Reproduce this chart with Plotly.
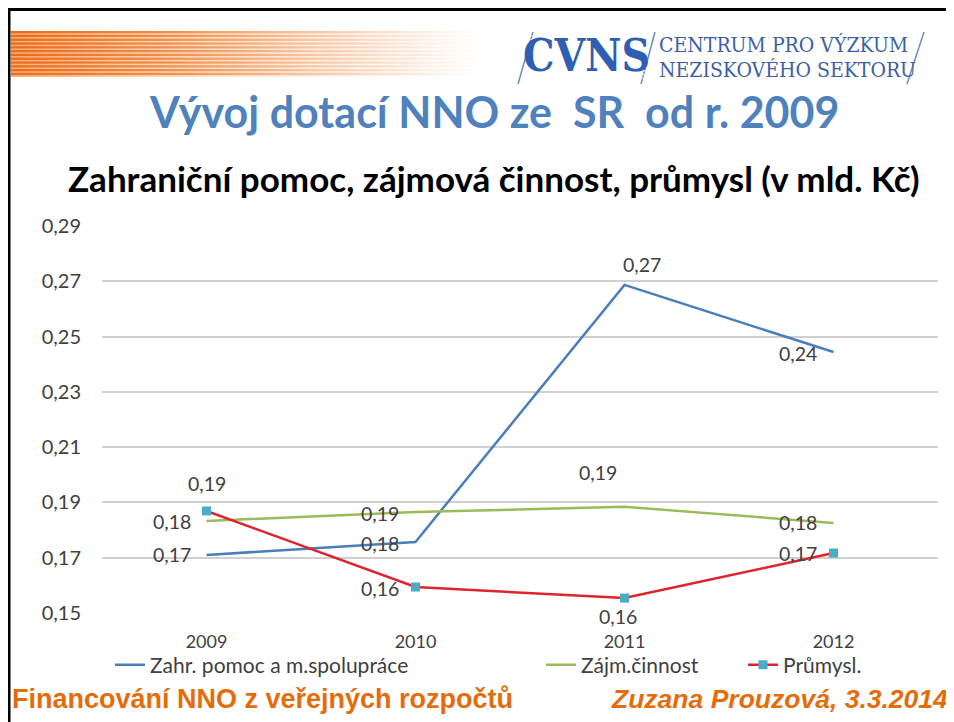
import base64
import plotly.graph_objects as go

# ---------------- data ----------------
years = ["2009", "2010", "2011", "2012"]
zahr_pomoc = [0.171, 0.1757, 0.2687, 0.2444]
zajm_cinnost = [0.1833, 0.1865, 0.1884, 0.1826]
prumysl = [0.1869, 0.1594, 0.1554, 0.1717]
series_names = ["Zahr. pomoc a m.spolupráce", "Zájm.činnost", "Průmysl."]
y_ticks = [0.15, 0.17, 0.19, 0.21, 0.23, 0.25, 0.27, 0.29]

title_text = "Vývoj dotací NNO ze\u00a0\u00a0SR\u00a0\u00a0od r. 2009"
subtitle_text = "Zahraniční pomoc, zájmová činnost, průmysl (v mld. Kč)"
footer_left = "Financování NNO z veřejných rozpočtů"
footer_right = "Zuzana Prouzová, 3.3.2014"

# ---------------- geometry helpers (window pixel coords) ----------------
OFF = 8                      # page body margin
WIN_W, WIN_H = 954, 722
W, H = WIN_W - OFF, WIN_H - OFF
L, R, T, B = 102, 938, 226, 613   # plot area in window pixels


def px2x(px):
    return (px - L) / (R - L)


def py2y(py):
    return (B - py) / (B - T)


BLUE = "#4a7ebb"
GREEN = "#9bbb59"
RED = "#e0232b"
TEAL = "#4bacc6"
LABEL = "#404040"
FONT = "Lato"

fig = go.Figure()
fig.add_trace(go.Scatter(x=years, y=zahr_pomoc, name=series_names[0], mode="lines",
                         line=dict(color=BLUE, width=2.5), legend="legend"))
fig.add_trace(go.Scatter(x=years, y=zajm_cinnost, name=series_names[1], mode="lines",
                         line=dict(color=GREEN, width=2.5), legend="legend2"))
fig.add_trace(go.Scatter(x=years, y=prumysl, name=series_names[2], mode="lines+markers",
                         line=dict(color=RED, width=2.5),
                         marker=dict(symbol="square", size=9, color=TEAL), legend="legend3"))


def fmt(v):
    return f"{v:.2f}".replace(".", ",")


# label placement per series (style, not data)
placements = {
    0: [("right", "middle", -14, 0), ("right", "middle", -15, -2), ("center", "middle", 17, 20), ("right", "middle", -15, -1)],
    1: [("right", "middle", -14, -1), ("right", "middle", -15, -1), ("center", "middle", -27, 34), ("right", "middle", -15, 0)],
    2: [("center", "middle", 0, 28), ("right", "middle", -15, -1), ("center", "middle", -7, -18), ("right", "middle", -15, 0)],
}
annotations = []
for si, vals in enumerate([zahr_pomoc, zajm_cinnost, prumysl]):
    for i, v in enumerate(vals):
        xa, ya, xs, ys = placements[si][i]
        annotations.append(dict(x=i, y=v, xref="x", yref="y", text=fmt(v), showarrow=False,
                                xanchor=xa, yanchor=ya, xshift=xs, yshift=ys,
                                font=dict(family=FONT, size=19.5, color=LABEL)))

# titles
annotations.append(dict(x=px2x(494), y=py2y(112), xref="paper", yref="paper", text=f"<b>{title_text}</b>",
                        showarrow=False, xanchor="center", yanchor="middle",
                        font=dict(family=FONT, size=43, color="#4f81bd")))
annotations.append(dict(x=px2x(494), y=py2y(178), xref="paper", yref="paper", text=f"<b>{subtitle_text}</b>",
                        showarrow=False, xanchor="center", yanchor="middle",
                        font=dict(family=FONT, size=35, color="#000000")))
# footer
ORANGE = "#e46c0a"
FOOT_FONT = "Liberation Sans Narrow, Liberation Sans"
annotations.append(dict(x=px2x(10), y=py2y(699), xref="paper", yref="paper", text=f"<b>{footer_left}</b>",
                        showarrow=False, xanchor="left", yanchor="middle",
                        font=dict(family=FOOT_FONT, size=27, color=ORANGE)))
annotations.append(dict(x=px2x(950), y=py2y(699), xref="paper", yref="paper", text=f"<b><i>{footer_right}</i></b>",
                        showarrow=False, xanchor="right", yanchor="middle",
                        font=dict(family=FOOT_FONT, size=26.5, color=ORANGE)))
# logo texts
annotations.append(dict(x=px2x(586), y=py2y(56), xref="paper", yref="paper", text="<b>CVNS</b>",
                        showarrow=False, xanchor="center", yanchor="middle",
                        font=dict(family="DejaVu Serif Condensed, DejaVu Serif", size=44, color="#2f5fb3")))
annotations.append(dict(x=px2x(657), y=py2y(45), xref="paper", yref="paper", text="CENTRUM PRO VÝZKUM",
                        showarrow=False, xanchor="left", yanchor="middle",
                        font=dict(family="DejaVu Serif Condensed, DejaVu Serif", size=21, color="#3d5fa3")))
annotations.append(dict(x=px2x(657), y=py2y(70), xref="paper", yref="paper", text="NEZISKOVÉHO SEKTORU",
                        showarrow=False, xanchor="left", yanchor="middle",
                        font=dict(family="DejaVu Serif Condensed, DejaVu Serif", size=21, color="#3d5fa3")))

shapes = [
    # frame
    dict(type="line", xref="paper", yref="paper", x0=px2x(9), x1=px2x(960), y0=py2y(9.5), y1=py2y(9.5),
         line=dict(color="black", width=3)),
    dict(type="line", xref="paper", yref="paper", x0=px2x(9), x1=px2x(9), y0=py2y(8), y1=py2y(730),
         line=dict(color="black", width=3)),
    # logo slashes
    dict(type="line", xref="paper", yref="paper", x0=px2x(518), x1=px2x(533), y0=py2y(84), y1=py2y(32),
         line=dict(color="#6d8cc6", width=1.5)),
    dict(type="line", xref="paper", yref="paper", x0=px2x(641), x1=px2x(655), y0=py2y(84), y1=py2y(32),
         line=dict(color="#6d8cc6", width=1.5)),
    dict(type="line", xref="paper", yref="paper", x0=px2x(907), x1=px2x(924), y0=py2y(84), y1=py2y(32),
         line=dict(color="#6d8cc6", width=1.5)),
]
# thin white scan-lines across the CVNS wordmark (logo texture)
for k in range(13):
    yy = 36 + k * 3.5
    shapes.append(dict(type="line", xref="paper", yref="paper", x0=px2x(526), x1=px2x(648),
                       y0=py2y(yy), y1=py2y(yy), line=dict(color="rgba(255,255,255,0.8)", width=1)))

# orange striped banner (decoration) as an SVG image
stripes = "".join(f'<rect x="0" y="{i*3.8:.1f}" width="480" height="2.3" fill="url(#a)"/>' for i in range(12))
svg = ('<svg xmlns="http://www.w3.org/2000/svg" width="480" height="46" viewBox="0 0 480 46" preserveAspectRatio="none">'
       '<defs><linearGradient id="a" x1="0" x2="1" y1="0" y2="0">'
       '<stop offset="0" stop-color="#f06a18" stop-opacity="1"/>'
       '<stop offset="0.35" stop-color="#f07a2a" stop-opacity="0.75"/>'
       '<stop offset="1" stop-color="#f5a060" stop-opacity="0"/></linearGradient>'
       '<linearGradient id="b" x1="0" x2="1" y1="0" y2="0">'
       '<stop offset="0" stop-color="#f6ae78" stop-opacity="1"/>'
       '<stop offset="0.4" stop-color="#f8c8a0" stop-opacity="0.6"/>'
       '<stop offset="1" stop-color="#fde8d8" stop-opacity="0"/></linearGradient></defs>'
       '<rect x="0" y="0" width="480" height="46" fill="url(#b)"/>' + stripes + '</svg>')
svg_uri = "data:image/svg+xml;base64," + base64.b64encode(svg.encode()).decode()

images = [dict(source=svg_uri, xref="paper", yref="paper", x=px2x(11), y=py2y(31),
               sizex=470 / (R - L), sizey=46 / (B - T), sizing="stretch",
               xanchor="left", yanchor="top", layer="below")]

legend_common = dict(orientation="h", yref="paper", y=py2y(665), yanchor="middle", xanchor="left",
                     bgcolor="rgba(0,0,0,0)", font=dict(family=FONT, size=21, color=LABEL),
                     itemclick=False, itemdoubleclick=False)

fig.update_layout(
    width=W, height=H,
    margin=dict(l=L - OFF, r=WIN_W - R, t=T - OFF, b=WIN_H - B),
    paper_bgcolor="white", plot_bgcolor="white",
    separators=", ",
    showlegend=True,
    legend=dict(x=px2x(110), **legend_common),
    legend2=dict(x=px2x(541), **legend_common),
    legend3=dict(x=px2x(743), **legend_common),
    annotations=annotations,
    shapes=shapes,
    images=images,
    xaxis=dict(type="category", range=[-0.5, 3.5], showgrid=False, zeroline=False, showline=False,
               ticks="outside", ticklen=12, tickcolor="rgba(0,0,0,0)",
               tickfont=dict(family=FONT, size=18, color=LABEL), fixedrange=True),
    yaxis=dict(range=[0.15, 0.29], tickvals=y_ticks, tickformat=".2f", showgrid=True,
               gridcolor="#d0d0d0", gridwidth=1.5, zeroline=False, showline=False,
               ticks="outside", ticklen=16, tickcolor="rgba(0,0,0,0)",
               tickfont=dict(family=FONT, size=20, color=LABEL), fixedrange=True),
)

fig.write_html("out.html")
